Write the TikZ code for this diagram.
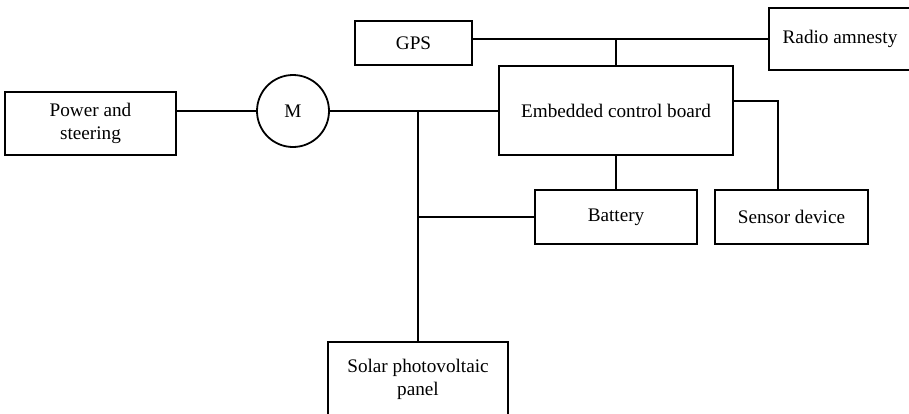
\documentclass[tikz,border=0pt]{standalone}
\usepackage{fontspec}
\setmainfont{Liberation Serif}
\begin{document}
\begin{tikzpicture}[x=1pt,y=-1pt,
  box/.style={draw, line width=1.8pt, inner sep=0pt, align=center,
    font=\fontsize{19.2}{23}\selectfont},
  wire/.style={line width=1.8pt}]
\useasboundingbox (0,0) rectangle (909,413);
\clip (0,0) rectangle (909,413);
\node[box, minimum width=117pt, minimum height=44pt] (gps) at (413.5,43) {GPS};
\node[box, minimum width=142pt, minimum height=62pt] (radio) at (840,39) {Radio amnesty};
\node[box, minimum width=234pt, minimum height=89pt] (ecb) at (616,110.5) {Embedded control board};
\node[box, minimum width=171pt, minimum height=63pt] (power) at (90.5,123.5) {Power and\\steering};
\node[box, circle, minimum size=72pt] (M) at (293,111) {M};
\node[box, minimum width=162pt, minimum height=54pt] (battery) at (616,217) {Battery};
\node[box, minimum width=153pt, minimum height=54pt] (sensor) at (791.5,217) {Sensor device};
\node[box, minimum width=180pt, minimum height=74pt] (solar) at (418,379) {Solar photovoltaic\\panel};
\coordinate (j1) at (616,39);
\coordinate (j2) at (418,111);
\coordinate (s1) at (778,101);
\draw[wire] (gps.east |- radio.west) -- (radio.west);
\draw[wire] (j1) -- (ecb.north);
\draw[wire] (power.east |- M.west) -- (M.west);
\draw[wire] (M.east) -- (ecb.west |- M.east);
\draw[wire] (j2) -- (solar.north);
\draw[wire] (j2 |- battery.west) -- (battery.west);
\draw[wire] (ecb.south) -- (battery.north);
\draw[wire] (ecb.east |- s1) -- (s1) -- (s1 |- sensor.north);
\end{tikzpicture}
\end{document}
